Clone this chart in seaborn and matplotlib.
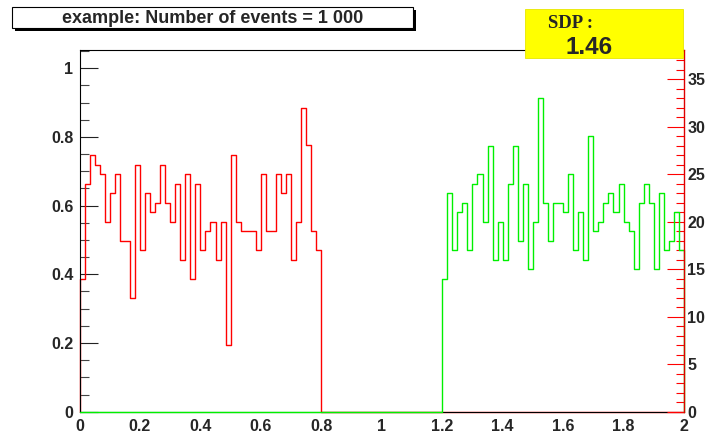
import numpy as np
import pandas as pd
import matplotlib
matplotlib.use("Agg")
import matplotlib.pyplot as plt
from matplotlib.patches import Rectangle
from matplotlib.ticker import MultipleLocator
import seaborn as sns

# 120 bins on [0, 2]; red fills the first 48 bins, green the last 48
n_bins = 120
x_range = (0.0, 2.0)

# red histogram, normalised (left axis)
red_values = [
    0.387, 0.664, 0.747, 0.719, 0.692, 0.553, 0.636, 0.692, 0.498, 0.498,
    0.332, 0.719, 0.470, 0.636, 0.581, 0.609, 0.719, 0.609, 0.553, 0.664,
    0.443, 0.692, 0.387, 0.664, 0.470, 0.526, 0.553, 0.443, 0.553, 0.194,
    0.747, 0.553, 0.526, 0.526, 0.526, 0.470, 0.692, 0.526, 0.526, 0.692,
    0.636, 0.692, 0.443, 0.553, 0.885, 0.775, 0.526, 0.470,
]
# green histogram, raw counts (right axis)
green_counts = [
    14, 23, 17, 21, 22, 17, 24, 25, 20, 28,
    16, 20, 16, 24, 28, 18, 24, 15, 20, 33,
    22, 18, 22, 22, 21, 25, 17, 21, 16, 29,
    19, 20, 22, 23, 21, 24, 20, 19, 15, 22,
    24, 22, 15, 23, 17, 18, 21, 17,
]

x_ticks = [0, 0.2, 0.4, 0.6, 0.8, 1.0, 1.2, 1.4, 1.6, 1.8, 2.0]
x_tick_labels = ["0", "0.2", "0.4", "0.6", "0.8", "1", "1.2", "1.4", "1.6", "1.8", "2"]
left_ticks = [0, 0.2, 0.4, 0.6, 0.8, 1.0]
left_tick_labels = ["0", "0.2", "0.4", "0.6", "0.8", "1"]
right_ticks = [0, 5, 10, 15, 20, 25, 30, 35]

title_text = "example: Number of events = 1 000"
sdp_label = "SDP :"
sdp_value = "1.46"

W, H = 706, 436


def fx(px):
    return px / W


def fy(py):
    return 1 - py / H


def step_outline(values, edges):
    """Outline of a histogram, closed down to zero at both ends."""
    x = np.concatenate([[edges[0]], edges])
    y = np.concatenate([[0.0], values, [0.0]])
    return pd.DataFrame({"x": x, "y": y})


sns.set_style("white")
plt.rcParams["font.family"] = ["Liberation Sans", "DejaVu Sans"]
plt.rcParams["font.weight"] = "bold"

edges = np.linspace(x_range[0], x_range[1], n_bins + 1)
n_empty = n_bins - len(red_values)
red_full = np.concatenate([red_values, np.zeros(n_empty)])
green_full = np.concatenate([np.zeros(n_empty), green_counts])

fig = plt.figure(figsize=(W / 100, H / 100), dpi=100)
fig.subplots_adjust(left=fx(79.5), right=fx(684), bottom=1 - 411.7 / H, top=1 - 50 / H)
ax = fig.add_subplot(111)
ax2 = ax.twinx()

sns.lineplot(data=step_outline(red_full, edges), x="x", y="y", estimator=None,
             sort=False, drawstyle="steps-post", color="#ff0000", linewidth=1.0,
             clip_on=False, ax=ax)
sns.lineplot(data=step_outline(green_full, edges), x="x", y="y", estimator=None,
             sort=False, drawstyle="steps-post", color="#00f000", linewidth=1.0,
             clip_on=False, ax=ax2)

ax.set_xlim(*x_range)
ax.set_ylim(0, 1.053)
ax2.set_ylim(0, 38.07)
for a in (ax, ax2):
    a.set_xlabel("")
    a.set_ylabel("")

# frame
for side in ("top", "left", "bottom"):
    ax.spines[side].set_color("black")
    ax.spines[side].set_linewidth(0.8)
ax.spines["right"].set_visible(False)
for side in ("top", "left", "bottom"):
    ax2.spines[side].set_visible(False)
ax2.spines["right"].set_color("#dd0000")
ax2.spines["right"].set_linewidth(1.0)

# x axis
ax.set_xticks(x_ticks, x_tick_labels)
ax.xaxis.set_minor_locator(MultipleLocator(0.05))
ax.tick_params(axis="x", which="major", direction="in", length=8, width=0.8,
               color="#222222", labelsize=11.5, pad=5, top=False)
ax.tick_params(axis="x", which="minor", direction="in", length=4.3, width=0.8,
               color="#444444", top=False)

# left axis
ax.set_yticks(left_ticks, left_tick_labels)
ax.yaxis.set_minor_locator(MultipleLocator(0.05))
ax.tick_params(axis="y", which="major", direction="in", length=13, width=0.8,
               color="#222222", labelsize=11.5, pad=4.5, right=False)
ax.tick_params(axis="y", which="minor", direction="in", length=6.5, width=0.8,
               color="#444444", right=False)

# right axis
ax2.set_yticks(right_ticks, [str(t) for t in right_ticks])
ax2.yaxis.set_minor_locator(MultipleLocator(1))
ax2.tick_params(axis="y", which="major", direction="in", length=12, width=0.8,
                color="#ff0000", labelsize=11.5, pad=2.5, left=False)
ax2.tick_params(axis="y", which="minor", direction="in", length=6, width=0.8,
                color="#ff0000", left=False)
ax2.tick_params(axis="x", which="both", bottom=False, top=False,
                labelbottom=False)

# title pave with shadow
bx0, bx1, by0, by1 = 11.7, 413, 6.7, 28.5
fig.add_artist(Rectangle((fx(bx0 + 3), fy(by1 + 3)), fx(bx1 - bx0), (by1 - by0) / H,
                         transform=fig.transFigure, facecolor="black",
                         edgecolor="none"))
fig.add_artist(Rectangle((fx(bx0), fy(by1)), fx(bx1 - bx0), (by1 - by0) / H,
                         transform=fig.transFigure, facecolor="white",
                         edgecolor="black", linewidth=0.8))
fig.text(fx((bx0 + bx1) / 2), fy(18.5), title_text, ha="center", va="center",
         fontsize=13, fontweight="bold")

# yellow SDP box
yx0, yx1, yy0, yy1 = 525, 683.3, 9.3, 58.3
fig.add_artist(Rectangle((fx(yx0), fy(yy1)), fx(yx1 - yx0), (yy1 - yy0) / H,
                         transform=fig.transFigure, facecolor="#ffff00",
                         edgecolor="#e6e600", linewidth=0.6))
fig.text(fx(548), fy(24), sdp_label, ha="left", va="center", fontsize=13.5,
         fontweight="bold", family="Liberation Serif")
fig.text(fx(589), fy(47), sdp_value, ha="center", va="center", fontsize=17.5,
         fontweight="bold")

fig.savefig("out.png", dpi=100)
